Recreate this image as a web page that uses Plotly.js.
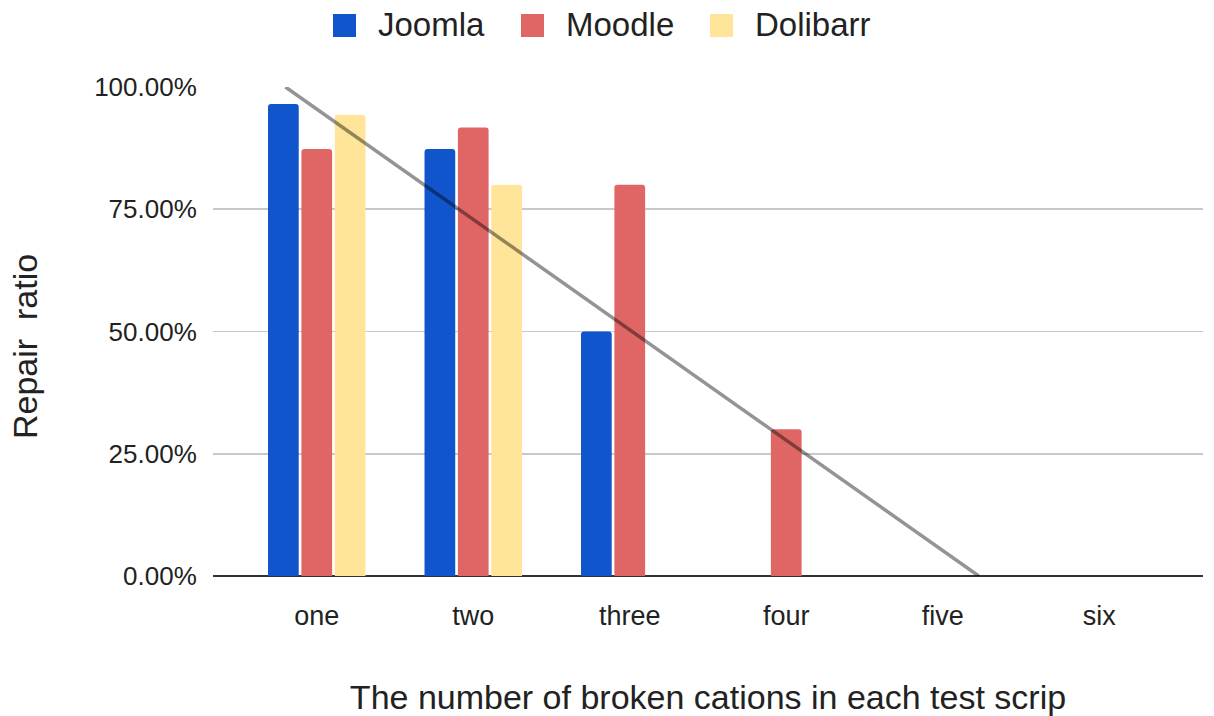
<!DOCTYPE html>
<html>
<head>
<meta charset="utf-8">
<script src="https://cdn.plot.ly/plotly-3.0.1.min.js"></script>
<style>
  html, body { margin: 0; padding: 0; background: #fff; }
  #chart { width: 1214px; height: 716px; }
</style>
</head>
<body>
<div id="chart"></div>
<script>
// categories on the x axis
var categories = ['one', 'two', 'three', 'four', 'five', 'six'];
var catPos = [0, 1, 2, 3, 4, 5];

// repair ratio per project
var seriesNames = ['Joomla', 'Moodle', 'Dolibarr'];
var joomla = [0.965, 0.873, 0.50, 0, 0, 0];
var moodle = [0.873, 0.917, 0.80, 0.30, 0, 0];
var dolibarr = [0.943, 0.80, 0, 0, 0, 0];

// linear trend line (end points)
var trendX = [-0.2, 4.23];
var trendY = [1.0, 0];

var yTicks = [0, 0.25, 0.5, 0.75, 1.0];

var colors = ['#1155cc', '#e06666', '#ffe599'];
var font = '"Liberation Sans", Arial, sans-serif';

// plot box in pixels, used to place the hand made legend
var W = 1214, H = 716;
var M = { l: 213, r: 11, t: 87, b: 140 };
var plotW = W - M.l - M.r, plotH = H - M.t - M.b;
function px2x(px) { return (px - M.l) / plotW; }
function px2y(py) { return (H - M.b - py) / plotH; }

function barTrace(name, values, color) {
    return {
        type: 'bar',
        x: catPos,
        y: values,
        name: name,
        marker: { color: color, cornerradius: 3, line: { width: 0 } },
        hovertemplate: name + ': %{y:.2%}<extra></extra>'
    };
}

var traces = [
    barTrace(seriesNames[0], joomla, colors[0]),
    barTrace(seriesNames[1], moodle, colors[1]),
    barTrace(seriesNames[2], dolibarr, colors[2]),
    {
        type: 'scatter',
        mode: 'lines',
        x: trendX,
        y: trendY,
        showlegend: false,
        hoverinfo: 'skip',
        line: { color: 'rgba(0,0,0,0.42)', width: 3.5 }
    }
];

// legend drawn by hand so the swatches can be big like the original
var legendLeft = [333, 521, 710];
var shapes = [], annotations = [];
seriesNames.forEach(function (name, i) {
    var x0 = legendLeft[i];
    shapes.push({
        type: 'rect', xref: 'paper', yref: 'paper',
        x0: px2x(x0), x1: px2x(x0 + 23),
        y0: px2y(37), y1: px2y(14),
        fillcolor: colors[i], line: { width: 0 }
    });
    annotations.push({
        xref: 'paper', yref: 'paper',
        x: px2x(x0 + 43), y: px2y(25),
        xanchor: 'left', yanchor: 'middle',
        text: name, showarrow: false,
        font: { size: 33, family: font, color: '#222' }
    });
});

// y axis title, sits a bit lower than the plot centre in the original
annotations.push({
    xref: 'paper', yref: 'paper',
    x: px2x(25), y: px2y(347),
    xanchor: 'center', yanchor: 'middle',
    textangle: -90,
    text: 'Repair  ratio', showarrow: false,
    font: { size: 34, family: font, color: '#222' }
});

var layout = {
    width: W,
    height: H,
    margin: M,
    paper_bgcolor: '#fff',
    plot_bgcolor: '#fff',
    font: { family: font, color: '#222', size: 27 },
    barmode: 'group',
    bargap: 0.36,
    bargroupgap: 0.08,
    showlegend: false,
    shapes: shapes,
    annotations: annotations,
    xaxis: {
        range: [-0.663, 5.663],
        tickmode: 'array',
        tickvals: catPos,
        ticktext: categories,
        showgrid: false,
        zeroline: false,
        showline: false,
        ticks: 'outside',
        ticklen: 16,
        tickcolor: 'rgba(0,0,0,0)',
        tickfont: { size: 27 },
        automargin: false,
        title: {
            text: 'The number of broken cations in each test scrip',
            font: { size: 34 },
            standoff: 54
        }
    },
    yaxis: {
        range: [0, 1],
        tickmode: 'array',
        tickvals: yTicks,
        tickformat: '.2%',
        showgrid: true,
        gridcolor: '#c8c8c8',
        gridwidth: 1.6,
        zeroline: true,
        zerolinecolor: '#333333',
        zerolinewidth: 2,
        ticks: 'outside',
        ticklen: 10,
        tickcolor: 'rgba(0,0,0,0)',
        tickfont: { size: 26 },
        automargin: false
    }
};

Plotly.newPlot('chart', traces, layout, { displayModeBar: false, staticPlot: true });
</script>
</body>
</html>
